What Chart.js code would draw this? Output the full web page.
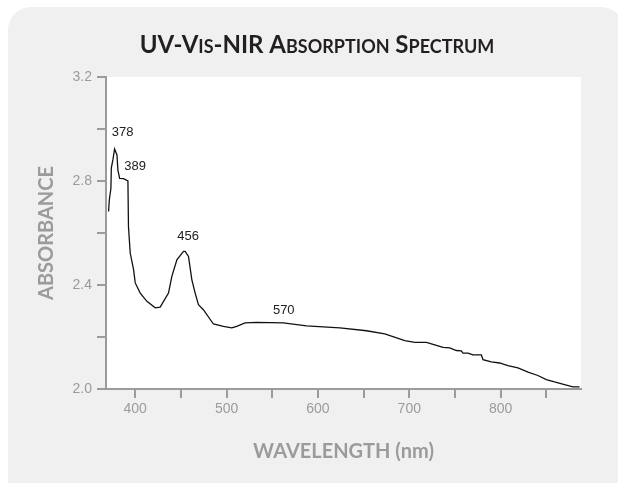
<!DOCTYPE html>
<html lang="en">
    <head>
        <meta charset="UTF-8">
        <title>UV-Vis-NIR Absorption Spectrum</title>
        <script src="https://cdn.jsdelivr.net/npm/chart.js"></script>
        <style>
            body { margin: 0; background: #fff; }
        </style>
    </head>
    <body>
        <canvas id="spectrumChart" width="618" height="483"></canvas>

        <script>
            // spectrum: wavelength (nm) and absorbance
            const wavelengths = [
                370.8, 371.6, 373.4, 373.8, 375.6, 377.4, 380, 381, 382.9, 387.2,
                392, 392.6, 394.5, 398.2, 400, 405.5, 412.8, 421.9, 427.3, 436.4,
                440.1, 445.6, 452.8, 454.6, 458.3, 462, 465.6, 469.2, 474.6, 485.6,
                496.5, 505.7, 511.1, 520.2, 533, 562, 587.6, 624, 653.2, 673.2,
                695.1, 706, 718.8, 727.9, 737, 744.3, 751.6, 757, 758.8, 764.3,
                769.8, 778.9, 780.7, 789.8, 798.9, 808, 819, 830, 840.8, 850,
                859, 870, 879.1, 886.4
            ];
            const absorbance = [
                2.683, 2.726, 2.773, 2.85, 2.882, 2.923, 2.90, 2.843, 2.81, 2.809,
                2.80, 2.625, 2.523, 2.459, 2.408, 2.369, 2.337, 2.312, 2.315, 2.369,
                2.433, 2.497, 2.529, 2.529, 2.51, 2.42, 2.369, 2.324, 2.305, 2.25,
                2.241, 2.235, 2.241, 2.254, 2.256, 2.254, 2.243, 2.235, 2.224, 2.212,
                2.186, 2.179, 2.179, 2.17, 2.16, 2.158, 2.148, 2.147, 2.138, 2.138,
                2.131, 2.131, 2.113, 2.104, 2.10, 2.09, 2.081, 2.065, 2.052, 2.036,
                2.027, 2.017, 2.008, 2.008
            ];

            // peak labels and where their centres sit (in data units)
            const peakLabels = ['378', '389', '456', '570'];
            const peakLabelX = [386.3, 399.8, 457.9, 562.6];
            const peakLabelY = [2.985, 2.856, 2.585, 2.302];

            const titleParts = [
                ['UV-V', false], ['IS', true], ['-NIR A', false],
                ['BSORPTION', true], [' S', false], ['PECTRUM', true]
            ];

            const GREY = '#9b9b9b';

            const panelPlugin = {
                id: 'panel',
                beforeDraw(chart) {
                    const ctx = chart.ctx;
                    const a = chart.chartArea;
                    ctx.save();
                    ctx.fillStyle = '#f0f0f0';
                    ctx.beginPath();
                    ctx.roundRect(8, 7, 616, 500, 23);
                    ctx.fill();
                    ctx.fillStyle = '#fff';
                    ctx.fillRect(a.left, a.top, a.right - a.left, a.bottom - a.top);

                    // small-caps title
                    const big = 'bold 24px Lato';
                    const small = 'bold 18px Lato';
                    let total = 0;
                    titleParts.forEach(([t, sc]) => {
                        ctx.font = sc ? small : big;
                        total += ctx.measureText(t).width;
                    });
                    let x = 317 - total / 2;
                    ctx.fillStyle = '#231f20';
                    ctx.textBaseline = 'alphabetic';
                    titleParts.forEach(([t, sc]) => {
                        ctx.font = sc ? small : big;
                        ctx.fillText(t, x, 53);
                        x += ctx.measureText(t).width;
                    });
                    ctx.restore();
                },
                afterDatasetsDraw(chart) {
                    const ctx = chart.ctx;
                    const xs = chart.scales.x, ys = chart.scales.y;
                    ctx.save();
                    ctx.font = '13px "Liberation Sans", Arial, sans-serif';
                    ctx.fillStyle = '#222';
                    ctx.textAlign = 'center';
                    ctx.textBaseline = 'middle';
                    peakLabels.forEach((t, i) => {
                        ctx.fillText(t, xs.getPixelForValue(peakLabelX[i]), ys.getPixelForValue(peakLabelY[i]));
                    });
                    ctx.restore();
                }
            };

            const ctx = document.getElementById('spectrumChart').getContext('2d');

            new Chart(ctx, {
                type: 'line',
                data: {
                    datasets: [{
                        data: wavelengths.map((w, i) => ({ x: w, y: absorbance[i] })),
                        borderColor: '#111',
                        borderWidth: 1.3,
                        pointRadius: 0,
                        fill: false,
                        tension: 0
                    }]
                },
                options: {
                    responsive: false,
                    animation: false,
                    layout: { padding: { top: 77, right: 37, left: 0, bottom: 0 } },
                    plugins: {
                        legend: { display: false },
                        tooltip: { enabled: false }
                    },
                    scales: {
                        x: {
                            type: 'linear',
                            min: 368,
                            max: 888,
                            afterFit: s => { s.height = 94; },
                            border: { color: GREY, width: 2 },
                            grid: { drawOnChartArea: false, color: GREY, lineWidth: 2, tickLength: 9 },
                            ticks: {
                                stepSize: 50,
                                includeBounds: false,
                                autoSkip: false,
                                maxRotation: 0,
                                padding: 3,
                                color: GREY,
                                font: { family: '"Liberation Sans", Arial, sans-serif', size: 14 },
                                callback: v => (v % 100 === 0 ? v : '')
                            },
                            title: {
                                display: true,
                                text: 'WAVELENGTH (nm)',
                                color: GREY,
                                font: { family: 'Lato', weight: 'bold', size: 20 },
                                padding: { bottom: 19 }
                            }
                        },
                        y: {
                            min: 2.0,
                            max: 3.2,
                            afterFit: s => { s.width = 106; },
                            border: { color: GREY, width: 2 },
                            grid: { drawOnChartArea: false, color: GREY, lineWidth: 2, tickLength: 9 },
                            ticks: {
                                stepSize: 0.2,
                                autoSkip: false,
                                padding: 5,
                                color: GREY,
                                font: { family: '"Liberation Sans", Arial, sans-serif', size: 14 },
                                callback: v => (Math.round(v * 10) % 4 === 0 ? v.toFixed(1) : '')
                            },
                            title: {
                                display: true,
                                text: 'ABSORBANCE',
                                color: GREY,
                                font: { family: 'Lato', weight: 'bold', size: 20 },
                                padding: { top: 35 }
                            }
                        }
                    }
                },
                plugins: [panelPlugin]
            });
        </script>
    </body>
</html>
